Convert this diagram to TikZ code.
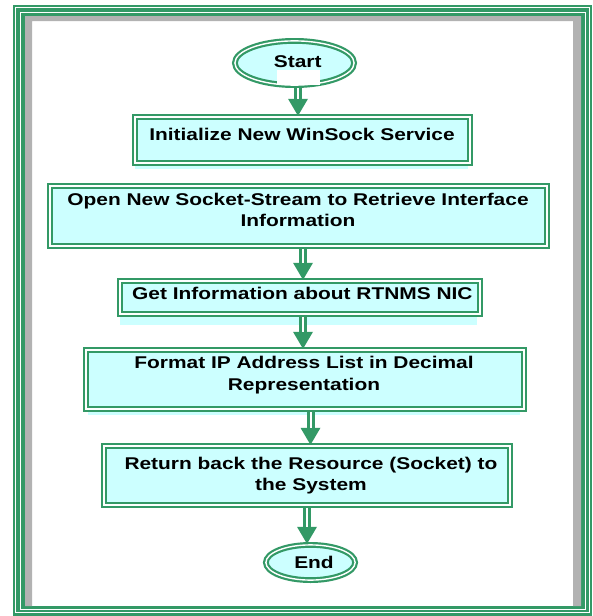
\documentclass[tikz,border=0pt]{standalone}
\usepackage{fontspec}
\setmainfont{Liberation Sans}
\newfontfamily\stepfont{Liberation Sans}[FakeStretch=1.23]
\usetikzlibrary{arrows.meta,shapes.geometric}
\definecolor{flowgreen}{HTML}{339966}
\definecolor{flowfill}{HTML}{CCFFFF}
\definecolor{framegray}{HTML}{B2B2B2}
\tikzset{
  x=1pt, y=-1pt,
  dblborder/.style={draw=flowgreen, double=white, line width=2.2pt, double distance=1.4pt, fill=flowfill, inner sep=0pt},
  stepbox/.style={dblborder, rectangle},
  terminal/.style={dblborder, ellipse},
  caption/.style={font=\stepfont\bfseries\fontsize{17}{21.5}\selectfont, align=center, anchor=north, inner sep=0pt, text=black},
  flow/.style={draw=flowgreen, line width=8pt, -{Triangle[width=20pt,length=17pt,line width=0pt]}},
  flowgap/.style={draw=white, line width=2pt, shorten >=17pt},
  boxshade/.style={fill=flowfill},
}
\begin{document}
\begin{tikzpicture}
\useasboundingbox (0,0) rectangle (592,616);

% page frame: green band with two white rules, grey inner band
\fill[flowgreen] (13,5) rectangle (592,616);
\fill[white] (25,16) rectangle (581,606);
\draw[white, line width=0.9pt] (15.8,7.8) rectangle (589.2,612.5);
\draw[white, line width=0.9pt] (20.4,12) rectangle (585,609);
\fill[framegray] (25,16) -- (581,16) -- (581,606) -- (573,606) -- (573,21)
  -- (32,21) -- (32,606) -- (25,606) -- cycle;

% light shading under some of the boxes
\fill[boxshade] (135,164) rectangle (468,169);
\fill[boxshade] (120,315) rectangle (477,325);
\fill[boxshade] (88,410) rectangle (520,415);

% terminals and process steps
\node[terminal, minimum width=119.2pt, minimum height=44.2pt] (start) at (294.5,63) {};
\fill[white] (277,70) rectangle (320,84.5);
\node[stepbox, minimum width=335.2pt, minimum height=46.2pt] (b1) at (302.5,140) {};
\node[stepbox, minimum width=497.2pt, minimum height=60.2pt] (b2) at (298.5,216) {};
\node[stepbox, minimum width=360.2pt, minimum height=33.2pt] (b3) at (300,297.5) {};
\node[stepbox, minimum width=438.2pt, minimum height=59.2pt] (b4) at (305,379.5) {};
\node[stepbox, minimum width=406.2pt, minimum height=59.2pt] (b5) at (307,475.5) {};
\node[terminal, minimum width=89.2pt, minimum height=35.2pt] (end) at (310.5,562.5) {};

% texts
\node[caption] (tstart) at (297.7,55) {Start};
\node[caption] (t1) at (302,127.7) {Initialize New WinSock Service};
\node[caption] (t2) at (298,192.7) {Open New Socket-Stream to Retrieve Interface\\Information};
\node[caption] (t3) at (302.4,286.7) {Get Information about RTNMS NIC};
\node[caption] (t4) at (304,356) {Format IP Address List in Decimal\\Representation};
\node[caption] (t5) at (311,456.7) {Return back the Resource (Socket) to\\the System};
\node[caption] (tend) at (314,556) {End};

% connectors: double shaft with a solid head
\foreach \a/\b/\dx in {start/b1/3.5, b2/b3/4.5, b3/b4/3, b4/b5/5.5, b5/end/0}{
  \draw[flow] ([xshift=\dx pt, yshift=-2pt]\a.south) -- ([xshift=\dx pt]\a.south |- \b.north);
  \draw[flowgap] ([xshift=\dx pt, yshift=-2pt]\a.south) -- ([xshift=\dx pt]\a.south |- \b.north);
}
\end{tikzpicture}
\end{document}
